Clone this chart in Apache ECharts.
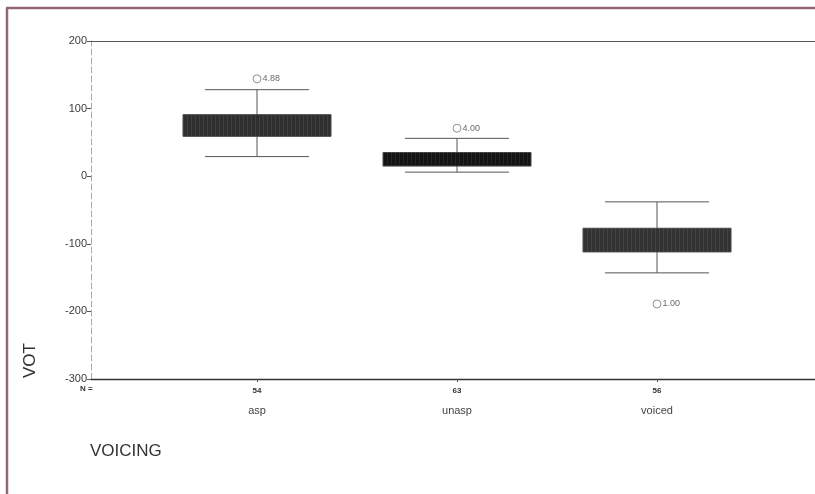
<!DOCTYPE html>
<html>
<head>
<meta charset="utf-8">
<script src="https://cdn.jsdelivr.net/npm/echarts@6/dist/echarts.min.js"></script>
<style>
  html, body { margin: 0; padding: 0; background: #fff; }
  #chart { width: 815px; height: 494px; }
</style>
</head>
<body>
<div id="chart"></div>
<script>
// Voice onset time (VOT, ms) by voicing category
const categories = ['asp', 'unasp', 'voiced'];
const counts = [54, 63, 56];
// [lower whisker, Q1, median, Q3, upper whisker]
const boxValues = [
  [29, 59, 75, 91, 128],
  [6, 15, 25, 35, 56],
  [-143, -112, -95, -77, -38]
];
const outlierValues = [144, 71, -189];
const outlierLabels = ['4.88', '4.00', '1.00'];
const yTicks = [-300, -200, -100, 0, 100, 200];

const boxFills = ['#2f2f2f', '#141414', '#333333'];

// fine vertical striping inside the boxes
function stripes(base) {
  const c = document.createElement('canvas');
  c.width = 4; c.height = 4;
  const g = c.getContext('2d');
  g.fillStyle = base; g.fillRect(0, 0, 4, 4);
  g.fillStyle = 'rgba(255,255,255,0.08)'; g.fillRect(3, 0, 1, 4);
  return { image: c, repeat: 'repeat' };
}

const chart = echarts.init(document.getElementById('chart'));
const fontFamily = 'Liberation Sans, Arial, sans-serif';

chart.setOption({
  animation: false,
  backgroundColor: '#ffffff',
  grid: [
    { left: 91, right: -5, top: 41, bottom: 115 },
    { left: 157, right: 58, top: 41, bottom: 115 }
  ],
  xAxis: [
    { gridIndex: 0, type: 'value', min: 0, max: 1, position: 'bottom',
      axisLine: { show: true, onZero: false, lineStyle: { color: '#333', width: 1.4 } },
      axisTick: { show: false }, axisLabel: { show: false }, splitLine: { show: false } },
    { gridIndex: 0, type: 'value', min: 0, max: 1, position: 'top',
      axisLine: { show: true, onZero: false, lineStyle: { color: '#555', width: 1.2 } },
      axisTick: { show: false }, axisLabel: { show: false }, splitLine: { show: false } },
    { gridIndex: 1, type: 'category', data: categories, position: 'bottom',
      axisLine: { show: false, onZero: false },
      axisTick: { show: true, alignWithLabel: true, length: 3, lineStyle: { color: '#555' } },
      axisLabel: {
        margin: 5,
        formatter: function (v, i) { return '{n|' + counts[i] + '}\n{c|' + v + '}'; },
        rich: {
          n: { fontSize: 8, fontWeight: 'bold', color: '#333', lineHeight: 14, fontFamily: fontFamily },
          c: { fontSize: 11, color: '#444', lineHeight: 26, fontFamily: fontFamily }
        }
      },
      splitLine: { show: false } }
  ],
  yAxis: [
    { gridIndex: 0, type: 'value', min: -300, max: 200, interval: 100,
      axisLine: { show: true, lineStyle: { color: '#aaa', width: 1, type: [6, 3] } },
      axisTick: { show: true, length: 4, lineStyle: { color: '#555' } },
      axisLabel: { color: '#3a3a3a', fontSize: 11, margin: 4, fontFamily: fontFamily,
        formatter: function (v) { return yTicks.indexOf(v) >= 0 ? String(v) : ''; } },
      splitLine: { show: false } },
    { gridIndex: 1, type: 'value', min: -300, max: 200, interval: 100,
      axisLine: { show: false }, axisTick: { show: false }, axisLabel: { show: false },
      splitLine: { show: false } }
  ],
  series: [
    {
      type: 'custom',
      xAxisIndex: 2, yAxisIndex: 1,
      data: boxValues.map(function (b, i) { return [i].concat(b); }),
      encode: { x: 0, y: [1, 2, 3, 4, 5] },
      renderItem: function (params, api) {
        const i = api.value(0);
        const band = api.size([1, 0])[0];
        const boxW = band * 0.74, capW = band * 0.52;
        const lo = api.coord([i, api.value(1)]);
        const q1 = api.coord([i, api.value(2)]);
        const q3 = api.coord([i, api.value(4)]);
        const hi = api.coord([i, api.value(5)]);
        const cx = lo[0];
        const line = { stroke: '#555', lineWidth: 1 };
        return {
          type: 'group',
          children: [
            { type: 'line', shape: { x1: cx - capW / 2, y1: hi[1], x2: cx + capW / 2, y2: hi[1] }, style: line },
            { type: 'line', shape: { x1: cx - capW / 2, y1: lo[1], x2: cx + capW / 2, y2: lo[1] }, style: line },
            { type: 'line', shape: { x1: cx, y1: hi[1], x2: cx, y2: q3[1] }, style: line },
            { type: 'line', shape: { x1: cx, y1: q1[1], x2: cx, y2: lo[1] }, style: line },
            { type: 'rect', shape: { x: cx - boxW / 2, y: q3[1], width: boxW, height: q1[1] - q3[1] },
              style: { fill: stripes(boxFills[i]), stroke: '#444', lineWidth: 1 } }
          ]
        };
      }
    },
    {
      type: 'scatter',
      xAxisIndex: 2, yAxisIndex: 1,
      symbol: 'circle', symbolSize: 8,
      itemStyle: { color: '#ffffff', borderColor: '#666', borderWidth: 0.9 },
      label: {
        show: true, position: 'right', distance: 1,
        formatter: function (p) { return p.name; },
        fontSize: 9, color: '#444', fontFamily: fontFamily
      },
      data: outlierValues.map(function (v, i) {
        return { name: outlierLabels[i], value: [categories[i], v] };
      })
    }
  ],
  graphic: [
    { type: 'line', shape: { x1: 6, y1: 8, x2: 815, y2: 8 }, style: { stroke: '#93677a', lineWidth: 2.5 } },
    { type: 'line', shape: { x1: 7, y1: 8, x2: 7, y2: 494 }, style: { stroke: '#93677a', lineWidth: 2.5 } },
    { type: 'text', left: 80, top: 385,
      style: { text: 'N =', fontSize: 8, fontWeight: 'bold', fill: '#333', fontFamily: fontFamily } },
    { type: 'group', x: 22, y: 378, rotation: Math.PI / 2,
      children: [
        { type: 'text', x: 0, y: 0,
          style: { text: 'VOT', fontSize: 17, fill: '#333', fontFamily: fontFamily } }
      ] },
    { type: 'text', left: 90, top: 443,
      style: { text: 'VOICING', fontSize: 17, fill: '#333', fontFamily: fontFamily } }
  ]
});
</script>
</body>
</html>
